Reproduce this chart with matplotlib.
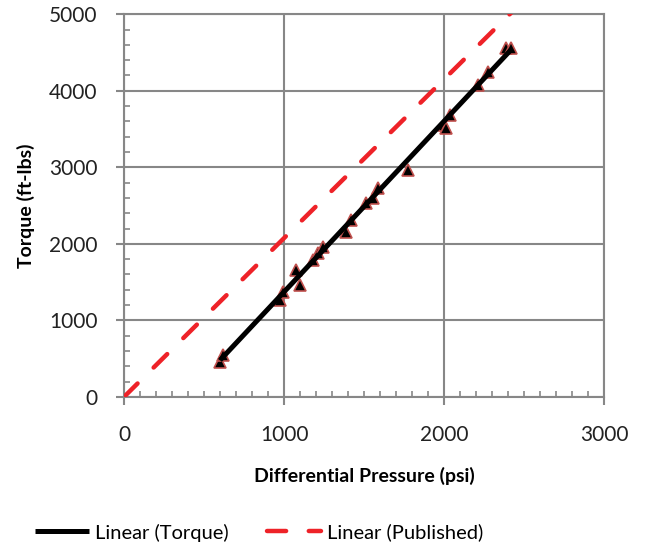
import matplotlib.pyplot as plt
from matplotlib.ticker import MultipleLocator

plt.rcParams['font.family'] = ['Lato', 'DejaVu Sans']

# Datos medidos (presion diferencial vs torque)
pressure = [599, 620, 973, 994, 1077, 1098, 1181, 1212, 1243, 1389, 1420,
            1514, 1555, 1587, 1773, 2002, 2013, 2034, 2210, 2273, 2387, 2418]
torque = [461, 548, 1266, 1375, 1658, 1462, 1788, 1876, 1962, 2158, 2311,
          2528, 2593, 2724, 2963, 3551, 3508, 3681, 4073, 4247, 4552, 4552]

# Lineas de tendencia (extremos)
fit_x = [600, 2420]
fit_y = [480, 4540]
pub_x = [0, 2600]
pub_y = [0, 5395]

fig = plt.figure(figsize=(6.56, 5.46), dpi=100)
ax = fig.add_axes([0.189, 0.273, 0.732, 0.701])

grid_color = '#878787'

ax.plot(pressure, torque, linestyle='none', marker='^', markersize=9,
        markerfacecolor='black', markeredgecolor='#C0504D', markeredgewidth=1.2,
        zorder=3)
ax.plot(fit_x, fit_y, color='black', linewidth=3.6, solid_capstyle='butt',
        label='Linear (Torque)', zorder=4)
ax.plot(pub_x, pub_y, color='#EE2228', linewidth=3.2, dashes=(4.3, 5.1),
        dash_capstyle='round', label='Linear (Published)', zorder=4)

ax.set_xlim(0, 3000)
ax.set_ylim(0, 5000)
ax.xaxis.set_major_locator(MultipleLocator(1000))
ax.yaxis.set_major_locator(MultipleLocator(1000))
ax.xaxis.set_minor_locator(MultipleLocator(100))
ax.yaxis.set_minor_locator(MultipleLocator(200))

ax.grid(True, which='major', color=grid_color, linewidth=1.5)
ax.set_axisbelow(True)
for s in ax.spines.values():
    s.set_color(grid_color)
    s.set_linewidth(1.5)

ax.tick_params(which='major', direction='out', length=6, width=1.5,
               color=grid_color, labelsize=15, labelcolor='#222222')
ax.tick_params(axis='x', which='major', pad=14)
ax.tick_params(axis='y', which='major', pad=13)
ax.tick_params(which='minor', direction='in', length=4, width=1.2,
               color=grid_color)

ax.set_xlabel('Differential Pressure (psi)', fontsize=14, fontweight='bold',
              labelpad=16)
ax.set_ylabel('Torque (ft-lbs)', fontsize=14, fontweight='bold', labelpad=10)

fig.legend(loc='lower center', bbox_to_anchor=(0.395, -0.025), ncol=2,
           frameon=False, fontsize=14.5, handlelength=2.7, handletextpad=0.3,
           columnspacing=1.9)

plt.savefig('out.png', dpi=100)
